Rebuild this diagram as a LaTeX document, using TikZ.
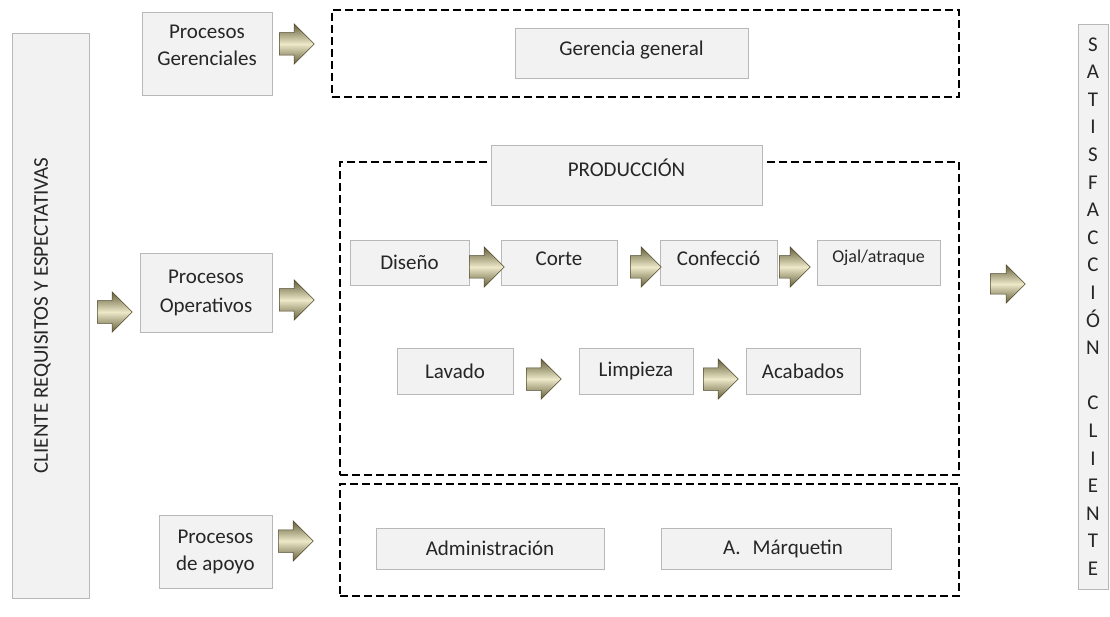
\documentclass[tikz,border=0pt]{standalone}
\usepackage{fontspec}
\setmainfont{Carlito}
\usetikzlibrary{shapes.arrows,shadows}
\definecolor{boxfill}{HTML}{F2F2F2}
\definecolor{boxline}{HTML}{B8B8B8}
\definecolor{arrdark}{HTML}{625C38}
\definecolor{arrmid}{HTML}{ECE8C8}
\definecolor{arredge}{HTML}{4F4A2E}
\newcommand{\liftby}[2]{\raisebox{#1}[\height][\depth]{#2}}
\begin{document}
\begin{tikzpicture}[x=1pt,y=-1pt,
  box/.style={draw=boxline, line width=0.8pt, fill=boxfill, inner sep=0pt,
    font=\fontsize{21}{27}\selectfont, text=black!85, align=center,
    drop shadow={shadow xshift=1.2pt, shadow yshift=-1.2pt, opacity=0.3}},
  dashbox/.style={draw=black, line width=2.6pt, dash pattern=on 8pt off 4pt, inner sep=0pt},
  blockarrow/.style={single arrow, anchor=tail, minimum height=35pt, inner xsep=0pt, inner ysep=11pt,
    single arrow head extend=9pt, draw=arredge, line width=0.5pt,
    top color=arrdark, bottom color=arrdark, middle color=arrmid}]
\useasboundingbox (0,0) rectangle (1110,617);
\fill[white] (0,0) rectangle (1110,617);
% dashed groups
\node[dashbox, minimum width=627pt, minimum height=87pt] (g1) at (645.5,53.5) {};
\node[dashbox, minimum width=619pt, minimum height=313pt] (g2) at (649.5,318.5) {};
\node[dashbox, minimum width=619pt, minimum height=112pt] (g3) at (649.5,540) {};
% side boxes
\node[box, minimum width=77pt, minimum height=565pt] (cli) at (50.5,315.5)
  {\hspace*{-16pt}\rotatebox{90}{CLIENTE REQUISITOS Y ESPECTATIVAS}};
\node[box, minimum width=30pt, minimum height=565pt, font=\fontsize{21}{27.6}\selectfont] (sat) at (1093,306.5)
  {S\\A\\T\\I\\S\\F\\A\\C\\C\\I\\Ó\\N\\\mbox{}\\C\\L\\I\\E\\N\\T\\E};
% process boxes
\node[box, minimum width=130pt, minimum height=83pt] (pg) at (207,53.5) {\liftby{7pt}{\begin{tabular}{@{}c@{}}Procesos\\Gerenciales\end{tabular}}};
\node[box, minimum width=132pt, minimum height=79pt] (po) at (206,292.5) {Procesos\\[2pt]Operativos};
\node[box, minimum width=113pt, minimum height=73pt] (pa) at (215.5,551.5) {Procesos\\de apoyo};
\node[box, minimum width=233pt, minimum height=50pt] (gg) at (631.5,53) {\liftby{3pt}{Gerencia general}};
\node[box, minimum width=271pt, minimum height=60pt] (prod) at (626.5,175) {\liftby{7pt}{PRODUCCIÓN}};
\node[box, minimum width=119pt, minimum height=45pt] (dis) at (409.5,262.5) {Diseño};
\node[box, minimum width=116pt, minimum height=45pt] (cor) at (559,262.5) {\liftby{4pt}{Corte}};
\node[box, minimum width=117pt, minimum height=45pt] (con) at (718.5,262.5) {\liftby{4pt}{Confecció}};
\node[box, minimum width=123pt, minimum height=45pt, font=\fontsize{18}{21}\selectfont] (oja) at (878.5,262.5) {\liftby{5pt}{Ojal/atraque}};
\node[box, minimum width=116pt, minimum height=46pt] (lav) at (455,371) {Lavado};
\node[box, minimum width=114pt, minimum height=46pt] (lim) at (636,371) {Limpieza};
\node[box, minimum width=114pt, minimum height=46pt] (aca) at (803,371) {Acabados};
\node[box, minimum width=228pt, minimum height=41pt] (adm) at (490,548.5) {Administración};
\node[box, minimum width=230pt, minimum height=41pt] (mar) at (776,548.5) {\hspace*{14pt}A.\hspace{12pt}Márquetin};
% block arrows
\node[blockarrow] (a0) at (97,312) {};
\node[blockarrow] (a1) at (279,44) {};
\node[blockarrow] (a2) at (279,300) {};
\node[blockarrow] (a3) at (278,541) {};
\node[blockarrow] (p1) at (469,267) {};
\node[blockarrow, minimum height=31pt] (p2) at (630,267) {};
\node[blockarrow, minimum height=31pt] (p3) at (779,267) {};
\node[blockarrow] (p4) at (526,379) {};
\node[blockarrow] (p5) at (703,379) {};
\node[blockarrow, inner ysep=10pt] (a4) at (990,284) {};
\end{tikzpicture}
\end{document}
